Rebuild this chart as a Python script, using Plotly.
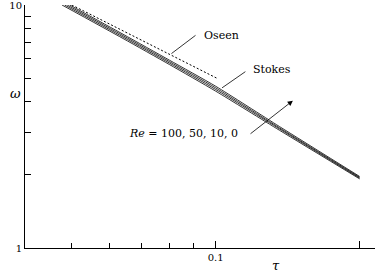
import math
import plotly.graph_objects as go

# ---- data ----
tau_re100 = [0.0477, 0.064, 0.08, 0.1, 0.136, 0.2]
omega_re100 = [10.0, 7.28, 5.69, 4.42, 3.05, 1.925]
tau_re50 = [0.0483, 0.064, 0.08, 0.1, 0.136, 0.2]
omega_re50 = [10.0, 7.38, 5.77, 4.49, 3.09, 1.94]
tau_re10 = [0.0489, 0.064, 0.08, 0.1, 0.136, 0.2]
omega_re10 = [10.0, 7.48, 5.85, 4.56, 3.12, 1.955]
tau_re0 = [0.0495, 0.064, 0.08, 0.1, 0.136, 0.2]
omega_re0 = [10.0, 7.58, 5.93, 4.63, 3.16, 1.97]
tau_oseen = [0.0500, 0.064, 0.08, 0.1005]
omega_oseen = [10.0, 7.82, 6.27, 5.0]

x_major = [0.1, 0.2]
x_major_text = ["0.1", ""]
x_minor = [0.05, 0.06, 0.07, 0.08, 0.09]
y_major = [1, 10]
y_major_text = ["1", "10"]
y_minor = [2, 3, 4, 5, 6, 7, 8, 9]

FONT = "DejaVu Serif"
L = math.log10

fig = go.Figure()
for t, w in [(tau_re100, omega_re100), (tau_re50, omega_re50),
             (tau_re10, omega_re10), (tau_re0, omega_re0)]:
    fig.add_trace(go.Scatter(x=t, y=w, mode="lines",
                             line=dict(color="black", width=0.8, shape="spline", smoothing=0.6),
                             showlegend=False, hoverinfo="skip"))
fig.add_trace(go.Scatter(x=tau_oseen, y=omega_oseen, mode="lines",
                         line=dict(color="black", width=1, dash="2px,2px"),
                         showlegend=False, hoverinfo="skip"))

def leader(x_tip, y_tip, x_tail, y_tail, head=0):
    fig.add_annotation(x=L(x_tip), y=L(y_tip), ax=L(x_tail), ay=L(y_tail),
                       xref="x", yref="y", axref="x", ayref="y", text="",
                       showarrow=True, arrowhead=head, arrowsize=1.3,
                       arrowwidth=0.8, arrowcolor="black", standoff=0, startstandoff=0)

def label(x, y, text, anchor):
    fig.add_annotation(x=L(x), y=L(y), xref="x", yref="y", text=text, showarrow=False,
                       xanchor=anchor, yanchor="middle",
                       font=dict(family=FONT, size=11, color="black"))

# Oseen
leader(0.0808, 6.31, 0.0914, 7.58)
label(0.0936, 7.51, "Oseen", "left")
# Stokes
leader(0.1031, 4.56, 0.1162, 5.37)
label(0.1185, 5.45, "Stokes", "left")
# Re arrow
leader(0.145, 4.04, 0.1174, 2.92, head=2)
label(0.1124, 2.96, "<i>Re</i> = 100, 50, 10, 0", "right")

# axis titles
fig.add_annotation(x=-0.048, y=0.635, xref="paper", yref="paper", text="<i>ω</i>",
                   showarrow=False, font=dict(family=FONT, size=13, color="black"))
fig.add_annotation(x=0.733, y=-0.112, xref="paper", yref="paper", text="<i>τ</i>",
                   showarrow=False, font=dict(family=FONT, size=13, color="black"))

fig.update_layout(
    width=375, height=272,
    margin=dict(l=25, r=0, t=5, b=24),
    paper_bgcolor="white", plot_bgcolor="white",
    showlegend=False,
    xaxis=dict(type="log", range=[-1.39895, -0.66675],
               tickvals=x_major, ticktext=x_major_text,
               ticks="inside", ticklen=7, tickwidth=1, tickcolor="black",
               minor=dict(tickvals=x_minor, ticks="inside", ticklen=5,
                          tickwidth=1, tickcolor="black"),
               showline=True, linecolor="black", linewidth=1,
               showgrid=False, zeroline=False, ticklabeloverflow="allow",
               tickfont=dict(family=FONT, size=10, color="black")),
    yaxis=dict(type="log", range=[0, 1],
               tickvals=y_major, ticktext=y_major_text,
               ticks="inside", ticklen=8, tickwidth=1, tickcolor="black",
               minor=dict(tickvals=y_minor, ticks="inside", ticklen=6,
                          tickwidth=1, tickcolor="black"),
               showline=True, linecolor="black", linewidth=1,
               showgrid=False, zeroline=False, ticklabeloverflow="allow",
               tickfont=dict(family=FONT, size=10, color="black")),
)

fig.write_html("out.html")
